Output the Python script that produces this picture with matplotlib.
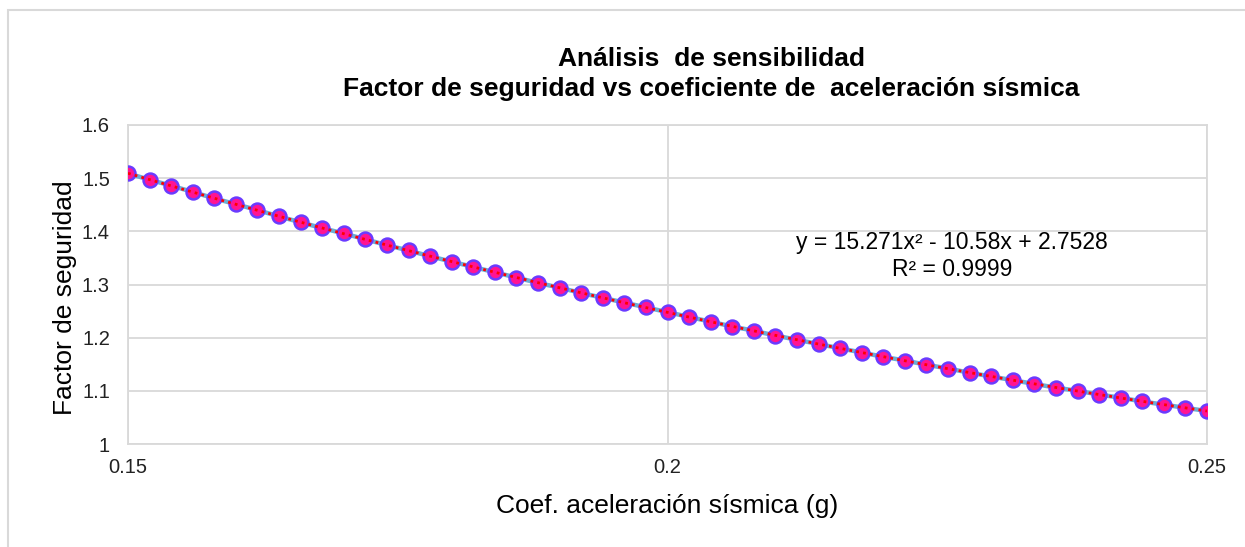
import matplotlib
matplotlib.use("Agg")
import matplotlib.pyplot as plt
from matplotlib.patches import Rectangle
import numpy as np

plt.rcParams['font.family'] = ['Liberation Sans', 'DejaVu Sans']

# coeficiente de aceleracion sismica (g) y factor de seguridad
coef_g = [0.150, 0.152, 0.154, 0.156, 0.158, 0.160, 0.162, 0.164, 0.166, 0.168,
          0.170, 0.172, 0.174, 0.176, 0.178, 0.180, 0.182, 0.184, 0.186, 0.188,
          0.190, 0.192, 0.194, 0.196, 0.198, 0.200, 0.202, 0.204, 0.206, 0.208,
          0.210, 0.212, 0.214, 0.216, 0.218, 0.220, 0.222, 0.224, 0.226, 0.228,
          0.230, 0.232, 0.234, 0.236, 0.238, 0.240, 0.242, 0.244, 0.246, 0.248,
          0.250]
fs = [1.509, 1.497, 1.486, 1.474, 1.462, 1.451, 1.440, 1.428, 1.417, 1.406,
      1.396, 1.385, 1.374, 1.364, 1.353, 1.343, 1.333, 1.323, 1.313, 1.303,
      1.294, 1.284, 1.275, 1.266, 1.257, 1.248, 1.239, 1.230, 1.221, 1.213,
      1.204, 1.196, 1.188, 1.180, 1.172, 1.164, 1.157, 1.149, 1.142, 1.134,
      1.127, 1.120, 1.113, 1.106, 1.100, 1.093, 1.087, 1.080, 1.074, 1.068,
      1.062]

x_ticks = [0.15, 0.2, 0.25]
x_ticklabels = ["0.15", "0.2", "0.25"]
y_ticks = [1.0, 1.1, 1.2, 1.3, 1.4, 1.5, 1.6]
y_ticklabels = ["1", "1.1", "1.2", "1.3", "1.4", "1.5", "1.6"]

eq_text = "y = 15.271x\u00b2 - 10.58x + 2.7528\nR\u00b2 = 0.9999"

fig = plt.figure(figsize=(12.45, 5.47), dpi=100)
ax = fig.add_axes([128 / 1245, 1 - 444 / 547, (1207 - 128) / 1245, (444 - 125) / 547])

grid_c = "#D9D9D9"
ax.plot(coef_g, fs, color="#6BAED6", lw=3.2, zorder=3)
ax.plot(coef_g, fs, ls="none", marker="o", ms=10, mfc="#FF1493",
        mec="#6A3BFF", mew=1.8, zorder=4)

# linea de tendencia polinomica de orden 2
coef = np.polyfit(coef_g, fs, 2)
ax.plot(coef_g, np.polyval(coef, coef_g), color="#FF0000", ls=(0, (1, 1.5)),
        lw=2, zorder=5)

ax.set_xlim(0.15, 0.25)
ax.set_ylim(1.0, 1.6)
ax.set_xticks(x_ticks)
ax.set_xticklabels(x_ticklabels)
ax.set_yticks(y_ticks)
ax.set_yticklabels(y_ticklabels)
ax.tick_params(length=0, labelsize=14.5, colors="#222222")
ax.tick_params(axis="y", pad=13)
ax.tick_params(axis="x", pad=10)
ax.grid(True, color=grid_c, lw=1.3)
ax.set_axisbelow(True)
for s in ax.spines.values():
    s.set_color(grid_c)
    s.set_linewidth(1.3)

ax.set_xlabel("Coef. aceleración sísmica (g)", fontsize=19, labelpad=12)
ax.set_ylabel("Factor de seguridad", fontsize=19)
ax.yaxis.set_label_coords(-0.047, 0.46)

fig.text(711 / 1245, 1 - 74 / 547,
         "Análisis  de sensibilidad\nFactor de seguridad vs coeficiente de  aceleración sísmica",
         ha="center", va="center", fontsize=19, fontweight="bold",
         linespacing=1.32)

fig.text(952 / 1245, 1 - 256 / 547, eq_text, ha="center", va="center",
         fontsize=16.5, multialignment="center", linespacing=1.2)

fig.patches.append(Rectangle((8 / 1245, -0.1), 1.2, 1.1 - 10 / 547,
                             transform=fig.transFigure, fill=False,
                             ec=grid_c, lw=1.5))

fig.savefig("out.png", dpi=100)
